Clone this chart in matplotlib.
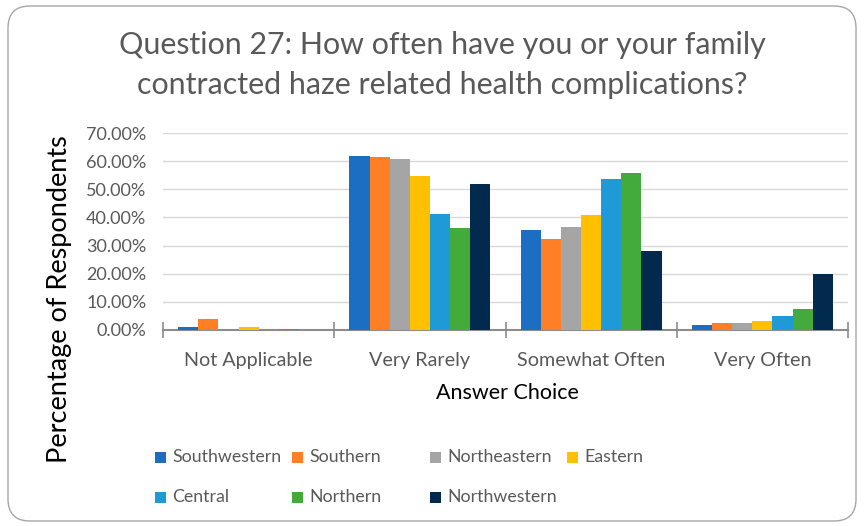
import matplotlib
matplotlib.use("Agg")
import matplotlib.pyplot as plt
from matplotlib.patches import FancyBboxPatch, Rectangle
from matplotlib.transforms import IdentityTransform
import numpy as np

plt.rcParams["font.family"] = ["Lato", "DejaVu Sans"]

categories = ["Not Applicable", "Very Rarely", "Somewhat Often", "Very Often"]
regions = ["Southwestern", "Southern", "Northeastern", "Eastern",
           "Central", "Northern", "Northwestern"]
colors = ["#1B6EC2", "#FF7F27", "#A5A5A5", "#FFC000",
          "#1E9AD6", "#43AB3C", "#022A4E"]

# percentage of respondents per answer choice
southwestern = [1.0, 61.7, 35.4, 1.9]
southern = [4.0, 61.3, 32.2, 2.5]
northeastern = [0.0, 60.7, 36.5, 2.6]
eastern = [0.9, 54.8, 40.8, 3.3]
central = [0.0, 41.2, 53.6, 5.1]
northern = [0.5, 36.2, 55.7, 7.5]
northwestern = [0.0, 51.8, 28.0, 20.0]
series = [southwestern, southern, northeastern, eastern,
          central, northern, northwestern]

yticks = [0, 10, 20, 30, 40, 50, 60, 70]

W, H = 864, 526
fig = plt.figure(figsize=(W / 100, H / 100), dpi=100)

# rounded chart border
border = FancyBboxPatch((8, 5), W - 16, H - 11,
                        boxstyle="round,pad=0,rounding_size=22",
                        transform=IdentityTransform(), facecolor="none",
                        edgecolor="#A6A6A6", linewidth=1.0, zorder=-1)
fig.patches.append(border)

ax = fig.add_axes([163 / W, 1 - 330 / H, (848 - 163) / W, (330 - 133) / H])
ax.set_facecolor("none")

n = len(series)
gap = 1.51
bw = 1.0 / (n + gap)
x = np.arange(len(categories))
for i, (vals, col) in enumerate(zip(series, colors)):
    offs = (i - (n - 1) / 2) * bw
    ax.bar(x + offs, vals, width=bw, color=col, edgecolor="none",
           linewidth=0, zorder=3)

ax.set_xlim(-0.5, len(categories) - 0.5)
ax.set_ylim(0, 70)
ax.set_yticks(yticks)
ax.set_yticklabels([f"{v:.2f}%" for v in yticks], fontsize=13, color="#595959")
ax.tick_params(axis="y", length=0, pad=12)
ax.yaxis.grid(True, color="#D9D9D9", linewidth=1.0, zorder=0)
ax.set_axisbelow(True)

ax.set_xticks(np.arange(-0.5, len(categories), 1.0))
ax.set_xticklabels([])
ax.set_xticks(x, minor=True)
ax.set_xticklabels(categories, minor=True, fontsize=14.2, color="#595959")
ax.tick_params(axis="x", which="major", direction="inout", length=11,
               color="#8C8C8C", width=1.2)
ax.tick_params(axis="x", which="minor", length=0, pad=15.5)

for s in ["top", "right", "left"]:
    ax.spines[s].set_visible(False)
ax.spines["bottom"].set_color("#8C8C8C")
ax.spines["bottom"].set_linewidth(1.5)

fig.text(442 / W, 1 - 45 / H, "Question 27: How often have you or your family",
         ha="center", va="center", fontsize=21.9, color="#595959")
fig.text(442 / W, 1 - 85 / H, "contracted haze related health complications?",
         ha="center", va="center", fontsize=21.9, color="#595959")

fig.text(507 / W, 1 - 393 / H, "Answer Choice", ha="center", va="center",
         fontsize=15.5, color="black")
fig.text(60 / W, 1 - 299 / H, "Percentage of Respondents", ha="center",
         va="center", rotation=90, fontsize=19.5, color="black")

# legend laid out in a fixed 4-column grid
col_x = [155, 292, 430, 567]
row_y = [457, 497]
for k, (name, col) in enumerate(zip(regions, colors)):
    r, c = divmod(k, 4)
    px, py = col_x[c], row_y[r]
    fig.patches.append(Rectangle((px, H - py - 5.5), 11, 11,
                                 transform=IdentityTransform(),
                                 facecolor=col, edgecolor="none"))
    fig.text((px + 17) / W, 1 - py / H, name, ha="left", va="center",
             fontsize=12.8, color="#595959")

fig.savefig("out.png", dpi=100)
